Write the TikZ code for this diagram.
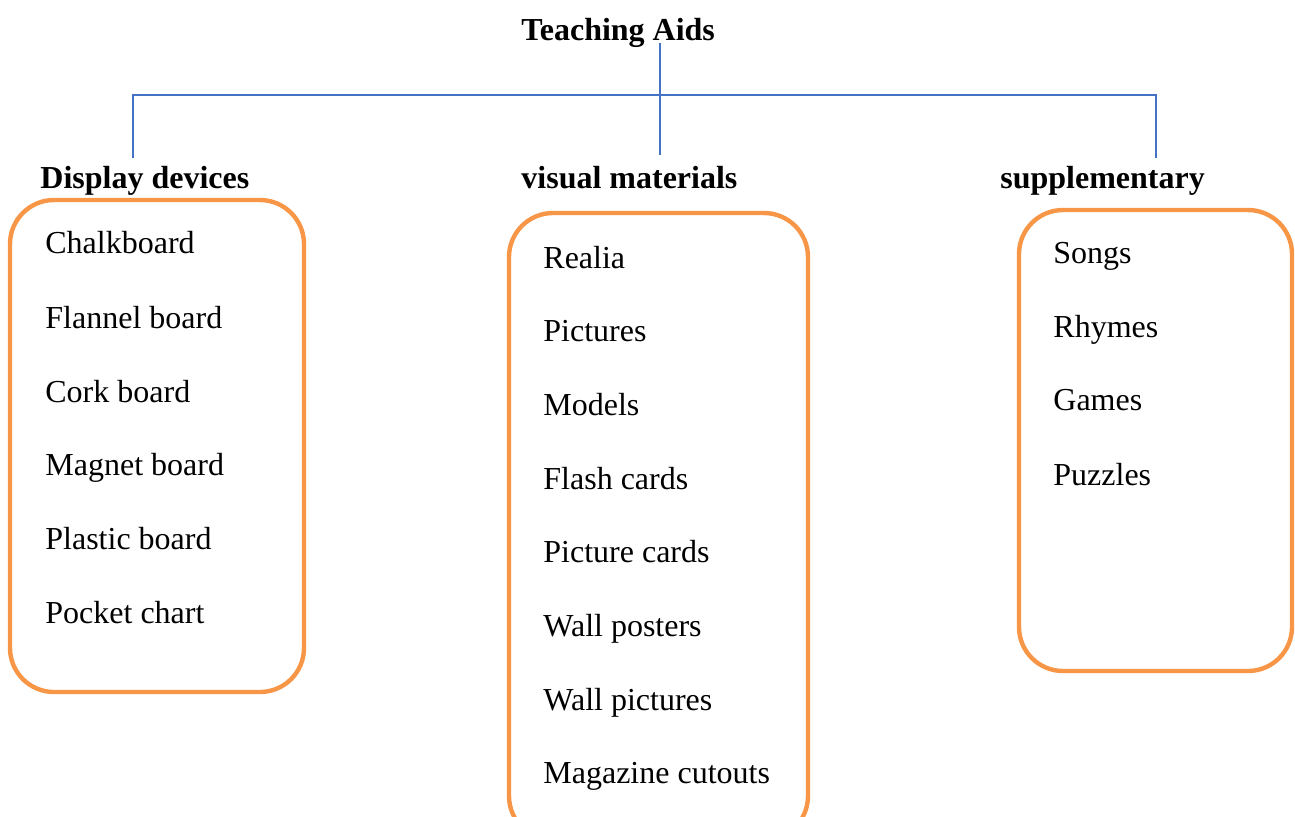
\documentclass[tikz,border=0pt]{standalone}
\usepackage{fontspec}
\setmainfont{Liberation Serif}
\definecolor{lineblue}{HTML}{4472C4}
\definecolor{boxorange}{HTML}{F79646}
\tikzset{
  x=0.5pt, y=-0.5pt,
  conn/.style={draw=lineblue, line width=1pt},
  itembox/.style={draw=boxorange, line width=2.2pt, rounded corners=22pt},
  item/.style={anchor=base west, inner sep=0pt, font=\fontsize{16}{19}\selectfont},
  head/.style={anchor=base west, inner sep=0pt, font=\fontsize{16}{19}\selectfont\bfseries},
}
\begin{document}
\begin{tikzpicture}
\useasboundingbox (0,0) rectangle (1295,816);
% title
\node[head] (title) at (521,40) {Teaching Aids};
% connector points
\coordinate (top) at (660,43);
\coordinate (mid) at (660,95);
\coordinate (midend) at (660,155);
\coordinate (lh) at (133,95);
\coordinate (lend) at (133,158);
\coordinate (rh) at (1156,95);
\coordinate (rend) at (1156,158);
\draw[conn] (top) -- (midend);
\draw[conn] (lend) -- (lh) -- (rh) -- (rend);
% headings
\node[head] (h1) at (40,188) {Display devices};
\node[head] (h2) at (521,188) {visual materials};
\node[head] (h3) at (1000,188) {supplementary};
% boxes
\draw[itembox] (10,200) rectangle (304,692);
\draw[itembox] (509,213) rectangle (808,840);
\draw[itembox] (1019,210) rectangle (1292,671);
% left items
\node[item] (a1) at (45,253) {Chalkboard};
\node[item] (a2) at (45,328) {Flannel board};
\node[item] (a3) at (45,402) {Cork board};
\node[item] (a4) at (45,475) {Magnet board};
\node[item] (a5) at (45,549) {Plastic board};
\node[item] (a6) at (45,623) {Pocket chart};
% middle items
\node[item] (b1) at (543,268) {Realia};
\node[item] (b2) at (543,341) {Pictures};
\node[item] (b3) at (543,415) {Models};
\node[item] (b4) at (543,489) {Flash cards};
\node[item] (b5) at (543,562) {Picture cards};
\node[item] (b6) at (543,636) {Wall posters};
\node[item] (b7) at (543,710) {Wall pictures};
\node[item] (b8) at (543,783) {Magazine cutouts};
% right items
\node[item] (c1) at (1053,263) {Songs};
\node[item] (c2) at (1053,337) {Rhymes};
\node[item] (c3) at (1053,410) {Games};
\node[item] (c4) at (1053,485) {Puzzles};
\end{tikzpicture}
\end{document}
